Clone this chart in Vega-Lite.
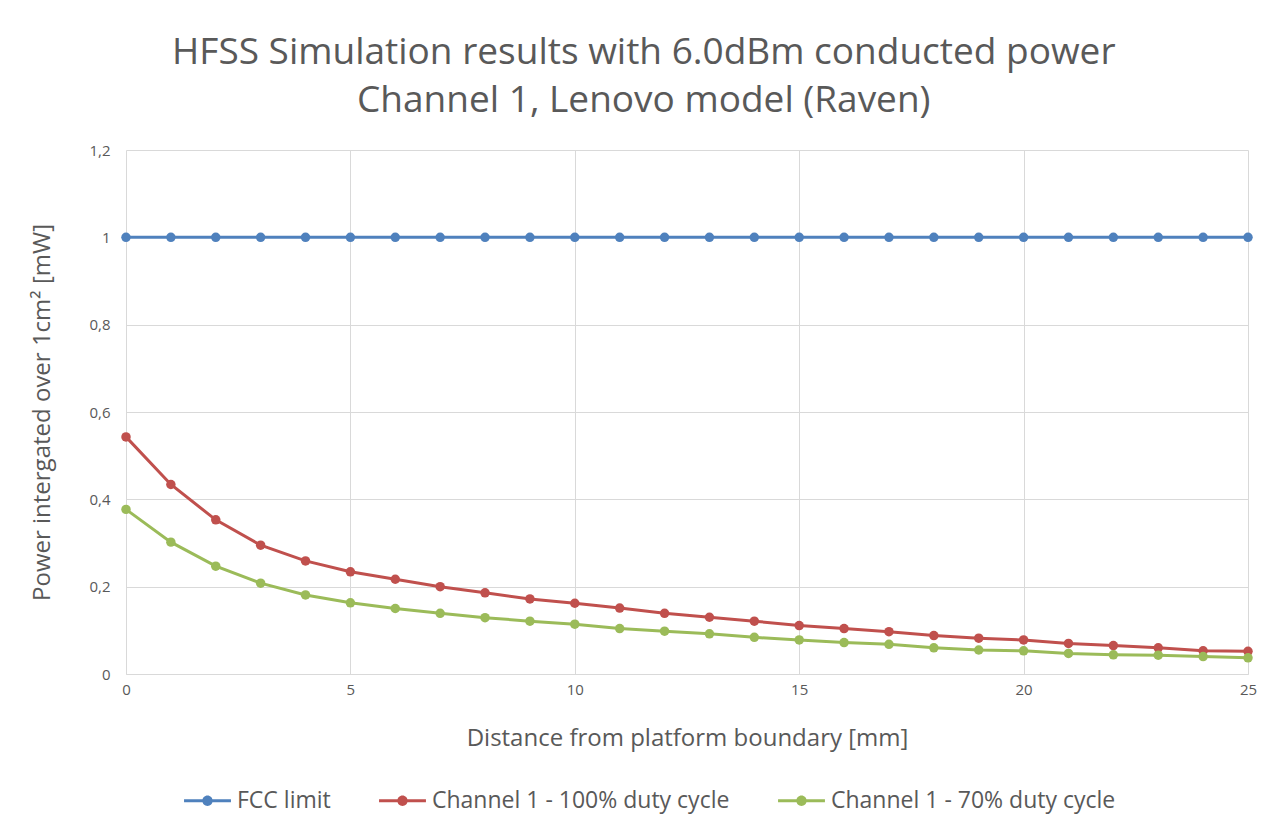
{
  "$schema": "https://vega.github.io/schema/vega-lite/v6.json",
  "width": 1122,
  "height": 524,
  "autosize": {"type": "none"},
  "padding": {"left": 126, "top": 150, "right": 35, "bottom": 160},
  "background": "white",
  "title": {
    "text": ["HFSS Simulation results with 6.0dBm conducted power", "Channel 1, Lenovo model (Raven)"],
    "font": "Open Sans",
    "fontSize": 37,
    "fontWeight": "normal",
    "color": "#595959",
    "lineHeight": 48,
    "anchor": "middle",
    "frame": "bounds",
    "offset": 23
  },
  "config": {
    "view": {"stroke": null},
    "font": "Open Sans",
    "axis": {
      "labelColor": "#595959",
      "titleColor": "#595959",
      "labelFont": "Open Sans",
      "titleFont": "Open Sans",
      "labelFontSize": 15,
      "titleFontSize": 24,
      "titleFontWeight": "normal",
      "gridColor": "#d9d9d9",
      "domainColor": "#d9d9d9",
      "ticks": false
    }
  },
  "data": {
    "values": [
      {"x": 0, "s": "FCC limit", "y": 1}, {"x": 1, "s": "FCC limit", "y": 1}, {"x": 2, "s": "FCC limit", "y": 1}, {"x": 3, "s": "FCC limit", "y": 1}, {"x": 4, "s": "FCC limit", "y": 1}, {"x": 5, "s": "FCC limit", "y": 1}, {"x": 6, "s": "FCC limit", "y": 1}, {"x": 7, "s": "FCC limit", "y": 1}, {"x": 8, "s": "FCC limit", "y": 1}, {"x": 9, "s": "FCC limit", "y": 1}, {"x": 10, "s": "FCC limit", "y": 1}, {"x": 11, "s": "FCC limit", "y": 1}, {"x": 12, "s": "FCC limit", "y": 1}, {"x": 13, "s": "FCC limit", "y": 1}, {"x": 14, "s": "FCC limit", "y": 1}, {"x": 15, "s": "FCC limit", "y": 1}, {"x": 16, "s": "FCC limit", "y": 1}, {"x": 17, "s": "FCC limit", "y": 1}, {"x": 18, "s": "FCC limit", "y": 1}, {"x": 19, "s": "FCC limit", "y": 1}, {"x": 20, "s": "FCC limit", "y": 1}, {"x": 21, "s": "FCC limit", "y": 1}, {"x": 22, "s": "FCC limit", "y": 1}, {"x": 23, "s": "FCC limit", "y": 1}, {"x": 24, "s": "FCC limit", "y": 1}, {"x": 25, "s": "FCC limit", "y": 1},
      {"x": 0, "s": "Channel 1 - 100% duty cycle", "y": 0.543}, {"x": 1, "s": "Channel 1 - 100% duty cycle", "y": 0.434}, {"x": 2, "s": "Channel 1 - 100% duty cycle", "y": 0.353}, {"x": 3, "s": "Channel 1 - 100% duty cycle", "y": 0.295}, {"x": 4, "s": "Channel 1 - 100% duty cycle", "y": 0.259}, {"x": 5, "s": "Channel 1 - 100% duty cycle", "y": 0.234}, {"x": 6, "s": "Channel 1 - 100% duty cycle", "y": 0.217}, {"x": 7, "s": "Channel 1 - 100% duty cycle", "y": 0.200}, {"x": 8, "s": "Channel 1 - 100% duty cycle", "y": 0.186}, {"x": 9, "s": "Channel 1 - 100% duty cycle", "y": 0.172}, {"x": 10, "s": "Channel 1 - 100% duty cycle", "y": 0.162}, {"x": 11, "s": "Channel 1 - 100% duty cycle", "y": 0.151}, {"x": 12, "s": "Channel 1 - 100% duty cycle", "y": 0.139}, {"x": 13, "s": "Channel 1 - 100% duty cycle", "y": 0.130}, {"x": 14, "s": "Channel 1 - 100% duty cycle", "y": 0.121}, {"x": 15, "s": "Channel 1 - 100% duty cycle", "y": 0.111}, {"x": 16, "s": "Channel 1 - 100% duty cycle", "y": 0.104}, {"x": 17, "s": "Channel 1 - 100% duty cycle", "y": 0.097}, {"x": 18, "s": "Channel 1 - 100% duty cycle", "y": 0.088}, {"x": 19, "s": "Channel 1 - 100% duty cycle", "y": 0.082}, {"x": 20, "s": "Channel 1 - 100% duty cycle", "y": 0.078}, {"x": 21, "s": "Channel 1 - 100% duty cycle", "y": 0.070}, {"x": 22, "s": "Channel 1 - 100% duty cycle", "y": 0.065}, {"x": 23, "s": "Channel 1 - 100% duty cycle", "y": 0.060}, {"x": 24, "s": "Channel 1 - 100% duty cycle", "y": 0.053}, {"x": 25, "s": "Channel 1 - 100% duty cycle", "y": 0.052},
      {"x": 0, "s": "Channel 1 - 70% duty cycle", "y": 0.377}, {"x": 1, "s": "Channel 1 - 70% duty cycle", "y": 0.302}, {"x": 2, "s": "Channel 1 - 70% duty cycle", "y": 0.247}, {"x": 3, "s": "Channel 1 - 70% duty cycle", "y": 0.208}, {"x": 4, "s": "Channel 1 - 70% duty cycle", "y": 0.181}, {"x": 5, "s": "Channel 1 - 70% duty cycle", "y": 0.163}, {"x": 6, "s": "Channel 1 - 70% duty cycle", "y": 0.150}, {"x": 7, "s": "Channel 1 - 70% duty cycle", "y": 0.139}, {"x": 8, "s": "Channel 1 - 70% duty cycle", "y": 0.129}, {"x": 9, "s": "Channel 1 - 70% duty cycle", "y": 0.121}, {"x": 10, "s": "Channel 1 - 70% duty cycle", "y": 0.114}, {"x": 11, "s": "Channel 1 - 70% duty cycle", "y": 0.104}, {"x": 12, "s": "Channel 1 - 70% duty cycle", "y": 0.098}, {"x": 13, "s": "Channel 1 - 70% duty cycle", "y": 0.092}, {"x": 14, "s": "Channel 1 - 70% duty cycle", "y": 0.084}, {"x": 15, "s": "Channel 1 - 70% duty cycle", "y": 0.078}, {"x": 16, "s": "Channel 1 - 70% duty cycle", "y": 0.072}, {"x": 17, "s": "Channel 1 - 70% duty cycle", "y": 0.068}, {"x": 18, "s": "Channel 1 - 70% duty cycle", "y": 0.060}, {"x": 19, "s": "Channel 1 - 70% duty cycle", "y": 0.055}, {"x": 20, "s": "Channel 1 - 70% duty cycle", "y": 0.053}, {"x": 21, "s": "Channel 1 - 70% duty cycle", "y": 0.047}, {"x": 22, "s": "Channel 1 - 70% duty cycle", "y": 0.044}, {"x": 23, "s": "Channel 1 - 70% duty cycle", "y": 0.043}, {"x": 24, "s": "Channel 1 - 70% duty cycle", "y": 0.040}, {"x": 25, "s": "Channel 1 - 70% duty cycle", "y": 0.037}
    ]
  },
  "mark": {"type": "line", "strokeWidth": 3, "point": {"filled": true, "size": 90, "opacity": 1}},
  "encoding": {
    "x": {
      "field": "x", "type": "quantitative",
      "scale": {"domain": [0, 25], "nice": false},
      "axis": {"values": [0, 5, 10, 15, 20, 25], "title": "Distance from platform boundary [mm]", "labelPadding": 8, "labelFlush": false, "titlePadding": 29, "grid": true}
    },
    "y": {
      "field": "y", "type": "quantitative",
      "scale": {"domain": [0, 1.2], "nice": false},
      "axis": {
        "values": [0, 0.2, 0.4, 0.6, 0.8, 1, 1.2],
        "labelExpr": "replace(format(datum.value, '.2~f'), '.', ',')",
        "title": "Power intergated over 1cm² [mW]",
        "labelPadding": 16,
        "titlePadding": 34,
        "domain": false
      }
    },
    "color": {
      "field": "s", "type": "nominal",
      "sort": ["FCC limit", "Channel 1 - 100% duty cycle", "Channel 1 - 70% duty cycle"],
      "scale": {"domain": ["FCC limit", "Channel 1 - 100% duty cycle", "Channel 1 - 70% duty cycle"], "range": ["#4F81BD", "#C0504D", "#9BBB59"]},
      "legend": {
        "orient": "none",
        "legendX": 58,
        "legendY": 627,
        "direction": "horizontal",
        "title": null,
        "labelFontSize": 23,
        "labelColor": "#595959",
        "labelFont": "Open Sans",
        "labelLimit": 400,
        "labelOffset": 6,
        "columnPadding": 48,
        "symbolType": "M-1,-0.065H1V0.065H-1Z M-0.22,0A0.22,0.22 0 1,1 0.22,0A0.22,0.22 0 1,1 -0.22,0Z",
        "symbolSize": 2200,
        "symbolStrokeWidth": 0,
        "encode": {"symbols": {"update": {"fill": {"scale": "color", "field": "value"}, "strokeWidth": {"value": 0}}}}
      }
    }
  }
}
